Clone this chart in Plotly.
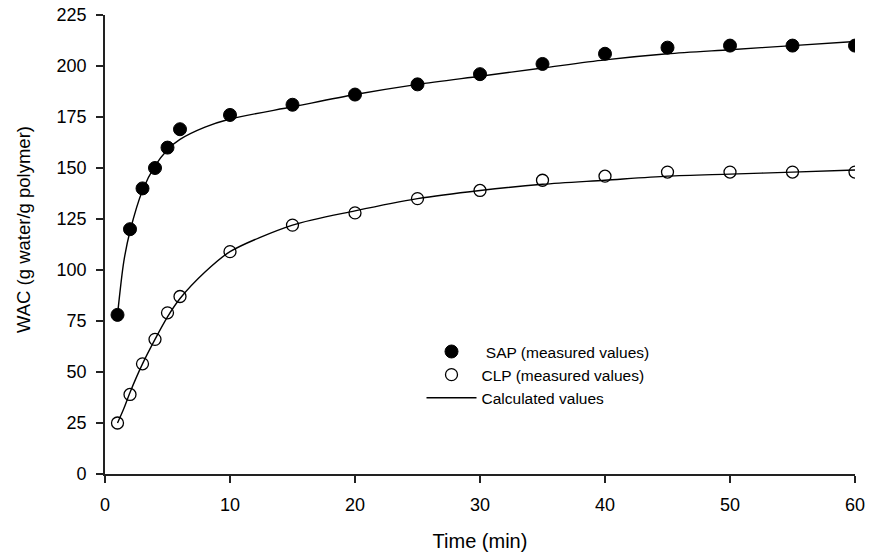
import plotly.graph_objects as go

time_pts = [1, 2, 3, 4, 5, 6, 10, 15, 20, 25, 30, 35, 40, 45, 50, 55, 60]
sap_measured = [78, 120, 140, 150, 160, 169, 176, 181, 186, 191, 196, 201, 206, 209, 210, 210, 210]
clp_measured = [25, 39, 54, 66, 79, 87, 109, 122, 128, 135, 139, 144, 146, 148, 148, 148, 148]

time_fit = [1, 1.5, 2, 3, 4, 5, 6, 8, 10, 15, 20, 25, 30, 35, 40, 45, 50, 55, 60]
sap_fit = [78, 104, 119, 139, 151, 159, 164, 170, 174, 180, 186, 191, 195, 199, 203, 206, 208, 210, 212]
clp_fit = [25, 32, 40, 54, 66, 77, 86, 99, 109, 122, 129, 135, 139, 142, 144, 146, 147, 148, 149]

x_ticks = [0, 10, 20, 30, 40, 50, 60]
y_ticks = [0, 25, 50, 75, 100, 125, 150, 175, 200, 225]

FONT = "Liberation Sans, Arial, sans-serif"

fig = go.Figure()
fig.add_trace(go.Scatter(
    x=time_pts, y=sap_measured, mode="markers", name=" SAP (measured values)",
    marker=dict(symbol="circle", size=13, color="black", line=dict(color="black", width=1)),
))
fig.add_trace(go.Scatter(
    x=time_pts, y=clp_measured, mode="markers", name="CLP (measured values)",
    marker=dict(symbol="circle-open", size=12, color="black", line=dict(color="black", width=1.3)),
))
fig.add_trace(go.Scatter(
    x=time_fit, y=sap_fit, mode="lines", name="Calculated values",
    line=dict(color="black", width=1.4, shape="spline", smoothing=0.8),
))
fig.add_trace(go.Scatter(
    x=time_fit, y=clp_fit, mode="lines", name="Calculated values", showlegend=False,
    line=dict(color="black", width=1.4, shape="spline", smoothing=0.8),
))

axis_common = dict(
    showline=True, linecolor="#222", linewidth=1.8, ticks="outside", ticklen=7,
    tickcolor="#222", tickwidth=1.8, showgrid=False, zeroline=False, automargin=False,
    tickfont=dict(family=FONT, size=18, color="black"),
)

fig.update_layout(
    width=869, height=554,
    margin=dict(l=105, r=14, t=15, b=80),
    paper_bgcolor="white", plot_bgcolor="white",
    font=dict(family=FONT, color="black"),
    xaxis=dict(range=[0, 60], tickvals=x_ticks, ticklabelstandoff=6,
               title=dict(text="Time (min)", font=dict(family=FONT, size=20), standoff=20),
               **axis_common),
    yaxis=dict(range=[0, 225], tickvals=y_ticks, ticklabelstandoff=6,
               **axis_common),
    legend=dict(x=0.422, y=0.303, xanchor="left", yanchor="top",
                font=dict(family=FONT, size=15.5, color="black"),
                bgcolor="rgba(0,0,0,0)", tracegroupgap=0, itemwidth=50),
    showlegend=True,
    annotations=[dict(
        text="WAC (g water/g polymer)", textangle=-90, showarrow=False,
        xref="paper", yref="paper", x=-0.108, y=0.5316,
        xanchor="center", yanchor="middle",
        font=dict(family=FONT, size=18.5, color="black"),
    )],
)

fig.write_html("out.html", config={"displayModeBar": False},
               post_script="document.body.style.margin='0';document.body.style.overflow='hidden';")
